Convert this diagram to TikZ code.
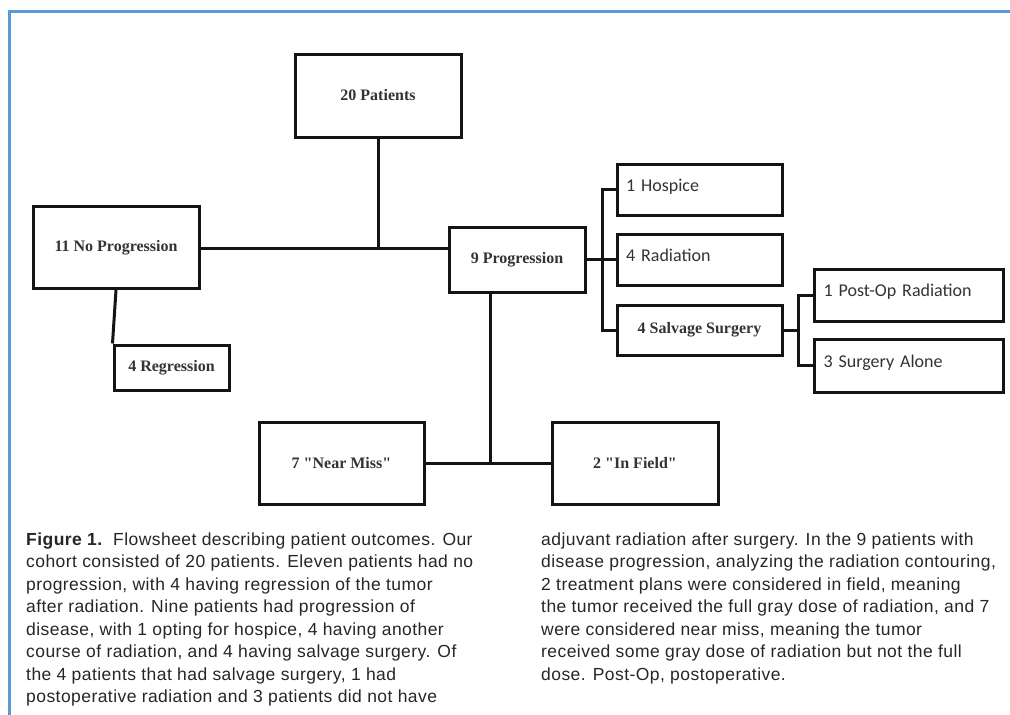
\documentclass[tikz,border=0pt]{standalone}
\usepackage{fontspec}
\setmainfont{Liberation Serif}
\newfontfamily\boxserif{Liberation Serif}
\newfontfamily\boxsans{Carlito}
\newfontfamily\capfont[LetterSpace=2.5]{Liberation Sans}
\definecolor{frameblue}{RGB}{91,155,213}
\definecolor{ink}{RGB}{20,20,20}
\begin{document}
\begin{tikzpicture}[x=1pt,y=-1pt,
  box/.style={draw=ink, line width=3pt, fill=white, inner sep=0pt, rectangle},
  serifbox/.style={box, font=\boxserif\bfseries\fontsize{16}{18}\selectfont, text=black!80},
  sansbox/.style={box, font=\boxsans\fontsize{18}{20}\selectfont, text=black!80, align=left},
  conn/.style={draw=ink, line width=3pt},
  captext/.style={anchor=north west, inner sep=0pt, align=left, font=\capfont\fontsize{17.5}{22.5}\selectfont, text=black!85}
]
\useasboundingbox (0,0) rectangle (1010,715);
\begin{scope}
\clip (0,0) rectangle (1010,715);
\draw[frameblue, line width=3pt] (9.5,730) -- (9.5,11.5) -- (1030,11.5);
\end{scope}

% boxes
\node[serifbox, minimum width=166pt, minimum height=83pt] (pat) at (378,95.5) {20 Patients};
\node[serifbox, minimum width=166pt, minimum height=82pt] (nop) at (116,247.5) {11 No Progression};
\node[serifbox, minimum width=136pt, minimum height=65pt] (prog) at (517,259.5) {9 Progression};
\node[serifbox, minimum width=115pt, minimum height=45pt] (reg) at (171.5,367.5) {4 Regression};
\node[sansbox, minimum width=165pt, minimum height=51pt, text width=147pt, text depth=9pt] (hosp) at (699.5,189.5) {1 Hospice};
\node[sansbox, minimum width=165pt, minimum height=51pt, text width=147pt, text depth=9pt] (rad) at (699.5,259.5) {4 Radiation};
\node[serifbox, minimum width=165pt, minimum height=50pt] (salv) at (699.5,330) {4 Salvage Surgery};
\node[sansbox, minimum width=189pt, minimum height=52pt, text width=170pt, text depth=9pt] (post) at (908.5,295) {1 Post-Op Radiation};
\node[sansbox, minimum width=189pt, minimum height=53pt, text width=170pt, text depth=9pt] (alone) at (908.5,365.5) {3 Surgery Alone};
\node[serifbox, minimum width=165pt, minimum height=82pt] (near) at (341.5,463) {7 "Near Miss"};
\node[serifbox, minimum width=166pt, minimum height=82pt] (infield) at (635,463) {2 "In Field"};

% junction coordinates
\coordinate (j1) at (378,248);
\coordinate (t1) at (602,0);
\coordinate (t2) at (798.5,0);
\coordinate (j2) at (490.5,463);

% connectors
\draw[conn] (pat.south) -- (j1);
\draw[conn] (nop.east |- j1) -- (j1) -- (prog.west |- j1);
\draw[conn] (nop.south) -- (reg.north west);
\draw[conn] (prog.east) -- (prog.east -| t1);
\draw[conn] (hosp.west) -- (hosp.west -| t1) -- (salv.west -| t1) -- (salv.west);
\draw[conn] (rad.west -| t1) -- (rad.west);
\draw[conn] (salv.east) -- (salv.east -| t2);
\draw[conn] (post.west) -- (post.west -| t2) -- (alone.west -| t2) -- (alone.west);
\draw[conn] (prog.south -| j2) -- (j2);
\draw[conn] (near.east) -- (infield.west);

% caption
\node[captext] (capL) at (26,532.5) {\textbf{Figure 1.}\ \ Flowsheet describing patient outcomes. Our\\
cohort consisted of 20 patients. Eleven patients had no\\
progression, with 4 having regression of the tumor\\
after radiation. Nine patients had progression of\\
disease, with 1 opting for hospice, 4 having another\\
course of radiation, and 4 having salvage surgery. Of\\
the 4 patients that had salvage surgery, 1 had\\
postoperative radiation and 3 patients did not have};
\node[captext] (capR) at (541,532.5) {adjuvant radiation after surgery. In the 9 patients with\\
disease progression, analyzing the radiation contouring,\\
2 treatment plans were considered in field, meaning\\
the tumor received the full gray dose of radiation, and 7\\
were considered near miss, meaning the tumor\\
received some gray dose of radiation but not the full\\
dose. Post-Op, postoperative.};
\end{tikzpicture}
\end{document}
